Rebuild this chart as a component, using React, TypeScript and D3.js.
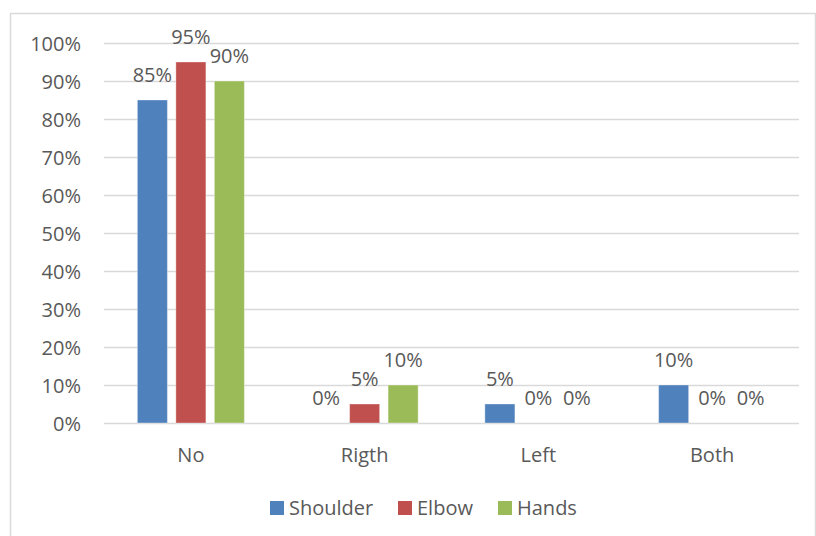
import React from "react";
import * as d3 from "d3";

const categories = ["No", "Rigth", "Left", "Both"];
const seriesNames = ["Shoulder", "Elbow", "Hands"];
const shoulder = [0.85, 0, 0.05, 0.1];
const elbow = [0.95, 0.05, 0, 0];
const hands = [0.9, 0.1, 0, 0];
const yTicks = [0, 0.1, 0.2, 0.3, 0.4, 0.5, 0.6, 0.7, 0.8, 0.9, 1];
const colors = ["#4F81BD", "#C0504D", "#9BBB59"];

const W = 816;
const H = 536;
const FONT = "'Open Sans', sans-serif";
const TEXT = "#595959";
const GRID = "#D9D9D9";

export default function App() {
  const values = [shoulder, elbow, hands];
  const x0 = d3.scaleBand<string>().domain(categories).range([104, 799]).padding(0);
  const x1 = d3
    .scaleBand<string>()
    .domain(seriesNames)
    .range([0, x0.bandwidth()])
    .paddingInner(0.22)
    .paddingOuter(0.867);
  const y = d3.scaleLinear().domain([0, 1]).range([423, 43]);
  const pct = d3.format(".0%");

  const legendX = [270, 398, 498];

  return (
    <svg
      width={W}
      height={H}
      style={{ position: "absolute", left: 0, top: 0, background: "#fff" }}
      fontFamily={FONT}
    >
      <rect x={10.5} y={13.5} width={805} height={540} fill="#fff" stroke={GRID} strokeWidth={1.5} />
      {yTicks.map((t) => (
        <g key={t}>
          <line x1={104} x2={799} y1={Math.round(y(t)) + 0.5} y2={Math.round(y(t)) + 0.5} stroke={GRID} strokeWidth={1.3} />
          <text x={81} y={y(t) + 7.5} textAnchor="end" fontSize={20} fill={TEXT}>
            {pct(t)}
          </text>
        </g>
      ))}
      {categories.map((c, ci) => (
        <g key={c} transform={`translate(${x0(c)},0)`}>
          {seriesNames.map((s, si) => {
            const v = values[si][ci];
            const bx = x1(s)!;
            return (
              <g key={s}>
                {v > 0 && (
                  <rect
                    x={bx}
                    y={y(v)}
                    width={x1.bandwidth()}
                    height={y(0) - y(v)}
                    fill={colors[si]}
                    stroke="#ffffff"
                    strokeOpacity={0.35}
                    strokeWidth={1}
                  />
                )}
                <text
                  x={bx + x1.bandwidth() / 2}
                  y={y(v) - 18}
                  textAnchor="middle"
                  fontSize={20}
                  fill={TEXT}
                >
                  {pct(v)}
                </text>
              </g>
            );
          })}
          <text x={x0.bandwidth() / 2} y={462} textAnchor="middle" fontSize={20} fill={TEXT}>
            {c}
          </text>
        </g>
      ))}
      {seriesNames.map((s, i) => (
        <g key={s}>
          <rect x={legendX[i]} y={501} width={14} height={14} fill={colors[i]} />
          <text x={legendX[i] + 19} y={515} fontSize={20} fill={TEXT}>
            {s}
          </text>
        </g>
      ))}
    </svg>
  );
}
